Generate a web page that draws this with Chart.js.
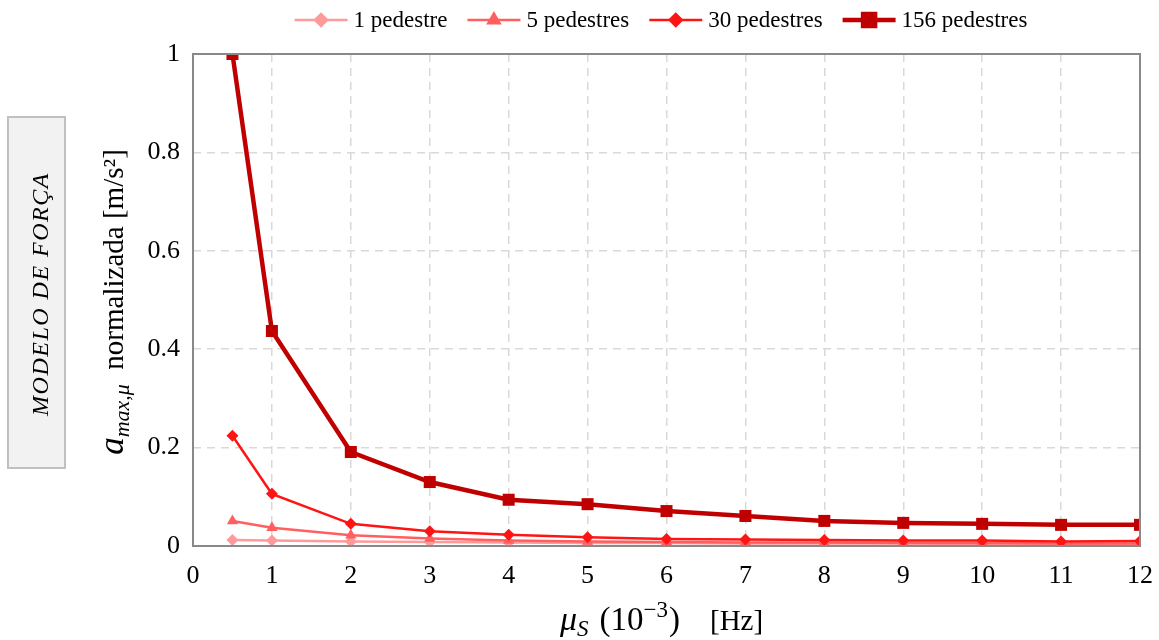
<!DOCTYPE html>
<html>
<head>
<meta charset="utf-8">
<script src="https://cdn.jsdelivr.net/npm/chart.js@4"></script>
<style>
  html, body { margin: 0; padding: 0; background: #ffffff; }
  #wrap { width: 1159px; height: 640px; position: relative; }
</style>
</head>
<body>
<div id="wrap"><canvas id="grafico" width="1159" height="640"></canvas></div>
<script>
// valores
const frequencias = [0.5, 1, 2, 3, 4, 5, 6, 7, 8, 9, 10, 11, 12];
const ped1   = [0.012, 0.011, 0.009, 0.008, 0.007, 0.006, 0.006, 0.005, 0.005, 0.005, 0.004, 0.004, 0.004];
const ped5   = [0.051, 0.037, 0.022, 0.015, 0.011, 0.009, 0.008, 0.007, 0.007, 0.006, 0.006, 0.005, 0.005];
const ped30  = [0.224, 0.106, 0.045, 0.030, 0.023, 0.018, 0.014, 0.013, 0.012, 0.011, 0.011, 0.009, 0.010];
const ped156 = [1.000, 0.437, 0.191, 0.130, 0.094, 0.085, 0.071, 0.061, 0.051, 0.047, 0.045, 0.043, 0.043];
const rotulos = ['1 pedestre', '5 pedestres', '30 pedestres', '156 pedestres'];
const yTicks = [0, 0.2, 0.4, 0.6, 0.8, 1];

const serif = "'Liberation Serif', 'Times New Roman', serif";

function pontos(valores) {
    return frequencias.map((f, i) => ({ x: f, y: valores[i] }));
}

// legenda desenhada à mão (linha + marcador)
const legendaPlugin = {
    id: 'legenda',
    afterDraw(chart) {
        const ctx = chart.ctx;
        const itens = [0, 1, 2, 3].map(i => chart.data.datasets.find(d => d.legendIndex === i));
        ctx.save();
        ctx.font = '23px ' + serif;
        const linha = 53, gapTxt = 6, gapItem = 20;
        let total = 0;
        itens.forEach((d, i) => {
            total += linha + gapTxt + ctx.measureText(d.label).width + (i < 3 ? gapItem : 0);
        });
        let x = 661 - total / 2;
        const y = 20;
        itens.forEach(d => {
            ctx.strokeStyle = d.borderColor;
            ctx.lineWidth = d.borderWidth;
            ctx.beginPath();
            ctx.moveTo(x, y);
            ctx.lineTo(x + linha, y);
            ctx.stroke();
            Chart.helpers.drawPoint(ctx, {
                pointStyle: d.pointStyle,
                radius: d.pointRadius,
                borderWidth: 1,
                rotation: 0
            }, x + linha / 2, y);
            ctx.fillStyle = d.borderColor;
            ctx.fill();
            x += linha + gapTxt;
            ctx.fillStyle = '#000';
            ctx.textBaseline = 'middle';
            ctx.textAlign = 'left';
            ctx.fillText(d.label, x, y + 1);
            x += ctx.measureText(d.label).width + gapItem;
        });
        ctx.restore();
    }
};

// moldura, títulos dos eixos e caixa lateral
const textosPlugin = {
    id: 'textos',
    afterDraw(chart) {
        const ctx = chart.ctx;
        const a = chart.chartArea;
        ctx.save();
        ctx.strokeStyle = '#898989';
        ctx.lineWidth = 2;
        ctx.strokeRect(a.left, a.top, a.right - a.left, a.bottom - a.top);

        // título do eixo y
        ctx.translate(113, 302);
        ctx.rotate(-Math.PI / 2);
        const partesY = [
            { t: 'a', f: 'italic 35px ' + serif, dy: 0 },
            { t: 'max,\u03bc', f: 'italic 22px ' + serif, dy: 6 },
            { t: '  normalizada [m/s\u00b2]', f: '29px ' + serif, dy: 0 }
        ];
        let w = 0;
        partesY.forEach(p => { ctx.font = p.f; w += ctx.measureText(p.t).width; });
        let x = -w / 2;
        ctx.fillStyle = '#000';
        ctx.textBaseline = 'alphabetic';
        partesY.forEach(p => {
            ctx.font = p.f;
            ctx.fillText(p.t, x, 10 + p.dy);
            x += ctx.measureText(p.t).width;
        });
        ctx.restore();

        // título do eixo x
        ctx.save();
        const partesX = [
            { t: '\u03bc', f: 'italic 34px ' + serif, dy: 0, esp: 0 },
            { t: 'S', f: 'italic 23px ' + serif, dy: 6, esp: 11 },
            { t: '(10', f: '33px ' + serif, dy: 0, esp: 0 },
            { t: '\u22123', f: '23px ' + serif, dy: -13, esp: 1 },
            { t: ')', f: '33px ' + serif, dy: 0, esp: 30 },
            { t: '[Hz]', f: '29px ' + serif, dy: 0, esp: 0 }
        ];
        x = 560;
        ctx.fillStyle = '#000';
        partesX.forEach(p => {
            ctx.font = p.f;
            ctx.fillText(p.t, x, 630 + p.dy);
            x += ctx.measureText(p.t).width + p.esp;
        });
        ctx.restore();

        // caixa "MODELO DE FORÇA"
        ctx.save();
        ctx.fillStyle = '#f2f2f2';
        ctx.fillRect(8, 117, 57, 351);
        ctx.strokeStyle = '#c0c0c0';
        ctx.lineWidth = 2;
        ctx.strokeRect(8, 117, 57, 351);
        ctx.translate(42, 294);
        ctx.rotate(-Math.PI / 2);
        ctx.font = 'italic 24px ' + serif;
        ctx.letterSpacing = '1.5px';
        ctx.fillStyle = '#000';
        ctx.textAlign = 'center';
        ctx.textBaseline = 'middle';
        ctx.fillText('MODELO DE FOR\u00c7A', 0, 0);
        ctx.restore();
    }
};

const datasets = [
    {
        label: rotulos[3], legendIndex: 3, order: 1,
        data: pontos(ped156),
        borderColor: '#c00000', backgroundColor: '#c00000',
        borderWidth: 4.5, pointStyle: 'rect', pointRadius: 8.5, pointBorderWidth: 0
    },
    {
        label: rotulos[2], legendIndex: 2, order: 2,
        data: pontos(ped30),
        borderColor: '#ff1414', backgroundColor: '#ff1414',
        borderWidth: 2.5, pointStyle: 'rectRot', pointRadius: 6, pointBorderWidth: 0
    },
    {
        label: rotulos[1], legendIndex: 1, order: 3,
        data: pontos(ped5),
        borderColor: '#ff5f5f', backgroundColor: '#ff5f5f',
        borderWidth: 2.5, pointStyle: 'triangle', pointRadius: 6.5, pointBorderWidth: 0
    },
    {
        label: rotulos[0], legendIndex: 0, order: 4,
        data: pontos(ped1),
        borderColor: '#ff9a9a', backgroundColor: '#ff9a9a',
        borderWidth: 2.5, pointStyle: 'rectRot', pointRadius: 6, pointBorderWidth: 0
    }
];

new Chart(document.getElementById('grafico').getContext('2d'), {
    type: 'line',
    data: { datasets: datasets },
    options: {
        responsive: false,
        animation: false,
        layout: { padding: { left: 0, right: 19, top: 54, bottom: 0 } },
        elements: { line: { tension: 0 } },
        plugins: {
            legend: { display: false },
            tooltip: { enabled: false }
        },
        scales: {
            x: {
                type: 'linear',
                min: 0, max: 12,
                afterFit: s => { s.height = 94; s.paddingLeft = 0; s.paddingRight = 0; },
                ticks: {
                    stepSize: 1,
                    color: '#000',
                    padding: 15,
                    font: { family: serif, size: 26 }
                },
                grid: { color: '#d9d9d9', lineWidth: 1.5, drawTicks: false },
                border: { display: false, dash: [8, 6] }
            },
            y: {
                min: 0, max: 1,
                afterFit: s => { s.width = 193; s.paddingTop = 0; s.paddingBottom = 0; },
                afterBuildTicks: s => { s.ticks = yTicks.map(v => ({ value: v })); },
                ticks: {
                    color: '#000',
                    padding: 13,
                    font: { family: serif, size: 26 },
                    callback: v => String(v)
                },
                grid: { color: '#d9d9d9', lineWidth: 1.5, drawTicks: false },
                border: { display: false, dash: [8, 6] }
            }
        }
    },
    plugins: [legendaPlugin, textosPlugin]
});
</script>
</body>
</html>
